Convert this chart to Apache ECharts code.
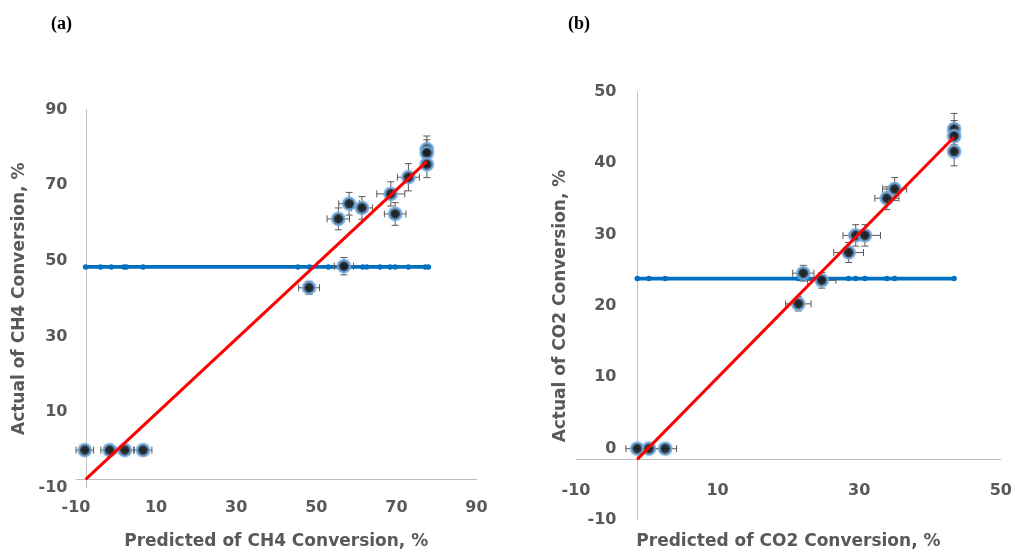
<!DOCTYPE html>
<html>
<head>
<meta charset="utf-8">
<script src="https://cdn.jsdelivr.net/npm/echarts@6/dist/echarts.min.js"></script>
<style>
  html, body { margin: 0; padding: 0; background: #fff; }
  #chart { width: 1015px; height: 555px; }
</style>
</head>
<body>
<div id="chart"></div>
<script>
// ---- Panel (a): CH4 conversion ----
const predCH4   = [-7.8, -1.6, 2.2, 6.75, 48.2, 56.9, 55.5, 58.2, 61.4, 68.6, 69.7, 73.0, 77.6, 77.6, 77.6];
const actualCH4 = [0, 0, 0, 0, 42.9, 48.6, 61.1, 65.1, 64.0, 67.7, 62.4, 72.1, 79.5, 78.5, 75.5];
const errXCH4   = [2.2, 2.2, 2.2, 2.2, 2.6, 2.4, 2.8, 2.6, 2.6, 3.5, 2.7, 2.75, 0, 0, 0];
const errYCH4   = [0, 0, 0, 0, 1.7, 2.3, 2.9, 3.0, 3.0, 3.2, 3.0, 3.6, 3.5, 3.5, 3.5];
const meanXCH4  = [-7.6, -3.9, -1.2, 2.0, 2.6, 6.75, 45.4, 48.3, 53.0, 56.75, 61.6, 62.6, 65.9, 68.4, 69.7, 73.0, 77.2, 78.0];
const meanCH4   = 48.4;
const trendCH4  = [[-7.6, -7.7], [77.6, 76.3]];
const ticksCH4  = { min: -10, max: 90, step: 20 };

// ---- Panel (b): CO2 conversion ----
const predCO2   = [-1.35, 0.3, 2.6, 21.4, 22.1, 24.7, 28.5, 29.5, 30.8, 33.9, 35.0, 43.4, 43.4, 43.4];
const actualCO2 = [0, 0, 0, 20.3, 24.6, 23.6, 27.5, 29.9, 29.9, 35.1, 36.4, 44.8, 43.8, 41.65];
const errXCO2   = [1.6, 1.6, 1.6, 1.8, 1.5, 2.0, 2.1, 1.8, 2.2, 1.7, 1.7, 0, 0, 0];
const errYCO2   = [0, 0, 0, 1.0, 1.1, 1.1, 1.4, 1.5, 1.5, 1.6, 1.6, 2.2, 2.2, 2.0];
const meanXCO2  = [-1.35, 0.3, 2.6, 21.4, 22.1, 24.7, 28.5, 29.5, 30.8, 33.9, 35.0, 43.4];
const meanCO2   = 23.85;
const trendCO2  = [[-1.35, -1.5], [43.4, 43.7]];
const ticksCO2x = { min: -10, max: 50, step: 20 };
const ticksCO2y = { min: -10, max: 50, step: 10 };

const panelLabels = ['(a)', '(b)'];
const xTitles = ['Predicted of CH4 Conversion, %', 'Predicted of CO2 Conversion, %'];
const yTitles = ['Actual of CH4 Conversion, %', 'Actual of CO2 Conversion, %'];

const AXIS_GREY = '#595959';
const labelFont = { fontFamily: 'DejaVu Sans', fontWeight: 'bold', fontSize: 16, color: AXIS_GREY };
const nameFont = { fontFamily: 'DejaVu Sans', fontWeight: 'bold', fontSize: 17, color: AXIS_GREY };

function valueAxis(ticks, extra) {
  return Object.assign({
    type: 'value',
    min: ticks.min, max: ticks.max, interval: ticks.step,
    splitLine: { show: false },
    axisTick: { show: false },
    axisLine: { show: true, onZero: false, lineStyle: { color: '#bfbfbf', width: 1 } },
    axisLabel: Object.assign({}, labelFont),
    nameLocation: 'middle',
    nameTextStyle: Object.assign({}, nameFont)
  }, extra);
}

// error bars (horizontal and vertical, with caps) drawn through the axis scales
function errorBars(params, api) {
  const x = api.value(0), y = api.value(1), ex = api.value(2), ey = api.value(3);
  const cap = 3.5;
  const style = { stroke: '#5a5a5a', lineWidth: 1 };
  const kids = [];
  if (ex > 0) {
    const l = api.coord([x - ex, y]), r = api.coord([x + ex, y]);
    kids.push({ type: 'line', shape: { x1: l[0], y1: l[1], x2: r[0], y2: r[1] }, style });
    kids.push({ type: 'line', shape: { x1: l[0], y1: l[1] - cap, x2: l[0], y2: l[1] + cap }, style });
    kids.push({ type: 'line', shape: { x1: r[0], y1: r[1] - cap, x2: r[0], y2: r[1] + cap }, style });
  }
  if (ey > 0) {
    const b = api.coord([x, y - ey]), t = api.coord([x, y + ey]);
    kids.push({ type: 'line', shape: { x1: b[0], y1: b[1], x2: t[0], y2: t[1] }, style });
    kids.push({ type: 'line', shape: { x1: b[0] - cap, y1: b[1], x2: b[0] + cap, y2: b[1] }, style });
    kids.push({ type: 'line', shape: { x1: t[0] - cap, y1: t[1], x2: t[0] + cap, y2: t[1] }, style });
  }
  return { type: 'group', children: kids };
}

function panelSeries(idx, pred, actual, errX, errY, meanX, meanVal, trend) {
  const pts = pred.map((p, i) => [p, actual[i]]);
  const errs = pred.map((p, i) => [p, actual[i], errX[i], errY[i]]);
  return [
    {
      type: 'line', xAxisIndex: idx, yAxisIndex: idx,
      data: meanX.map(x => [x, meanVal]),
      symbol: 'circle', symbolSize: 5.5, showSymbol: true,
      lineStyle: { color: '#0070c0', width: 3.8 },
      itemStyle: { color: '#0070c0' },
      z: 2
    },
    {
      type: 'custom', xAxisIndex: idx, yAxisIndex: idx,
      data: errs, renderItem: errorBars, z: 3
    },
    {
      type: 'scatter', xAxisIndex: idx, yAxisIndex: idx,
      data: pts, symbol: 'circle', symbolSize: 12,
      itemStyle: {
        color: '#000', borderColor: 'rgba(102,163,219,0.9)', borderWidth: 2.4,
        shadowBlur: 2, shadowColor: 'rgba(157,195,230,0.8)'
      },
      z: 4
    },
    {
      type: 'line', xAxisIndex: idx, yAxisIndex: idx,
      data: trend, symbol: 'none',
      lineStyle: { color: '#ff0000', width: 3 },
      z: 5
    }
  ];
}

const chart = echarts.init(document.getElementById('chart'), null, { renderer: 'canvas' });
chart.setOption({
  animation: false,
  backgroundColor: '#ffffff',
  title: [
    { text: panelLabels[0], left: 46, top: 10,
      textStyle: { fontFamily: 'Liberation Serif', fontWeight: 'bold', fontSize: 18, color: '#000' } },
    { text: panelLabels[1], left: 563, top: 10,
      textStyle: { fontFamily: 'Liberation Serif', fontWeight: 'bold', fontSize: 18, color: '#000' } }
  ],
  grid: [
    { left: 76, top: 109.5, width: 400.5, height: 383 },
    { left: 576, top: 92, width: 426, height: 430 }
  ],
  xAxis: [
    valueAxis(ticksCH4, { gridIndex: 0, offset: -9, axisLabel: Object.assign({ margin: 21 }, labelFont),
      name: xTitles[0], nameGap: 54 }),
    valueAxis(ticksCO2x, { gridIndex: 1, offset: -61, axisLabel: Object.assign({ margin: 24 }, labelFont),
      name: xTitles[1], nameGap: 74 })
  ],
  yAxis: [
    valueAxis(ticksCH4, { gridIndex: 0, offset: -10.5, axisLabel: Object.assign({ margin: 19 }, labelFont),
      name: yTitles[0], nameGap: 58 }),
    valueAxis(ticksCO2y, { gridIndex: 1, offset: -61.5, axisLabel: Object.assign({ margin: 21 }, labelFont),
      name: yTitles[1], nameGap: 68 })
  ],
  series: [
    ...panelSeries(0, predCH4, actualCH4, errXCH4, errYCH4, meanXCH4, meanCH4, trendCH4),
    ...panelSeries(1, predCO2, actualCO2, errXCO2, errYCO2, meanXCO2, meanCO2, trendCO2)
  ]
});
</script>
</body>
</html>
